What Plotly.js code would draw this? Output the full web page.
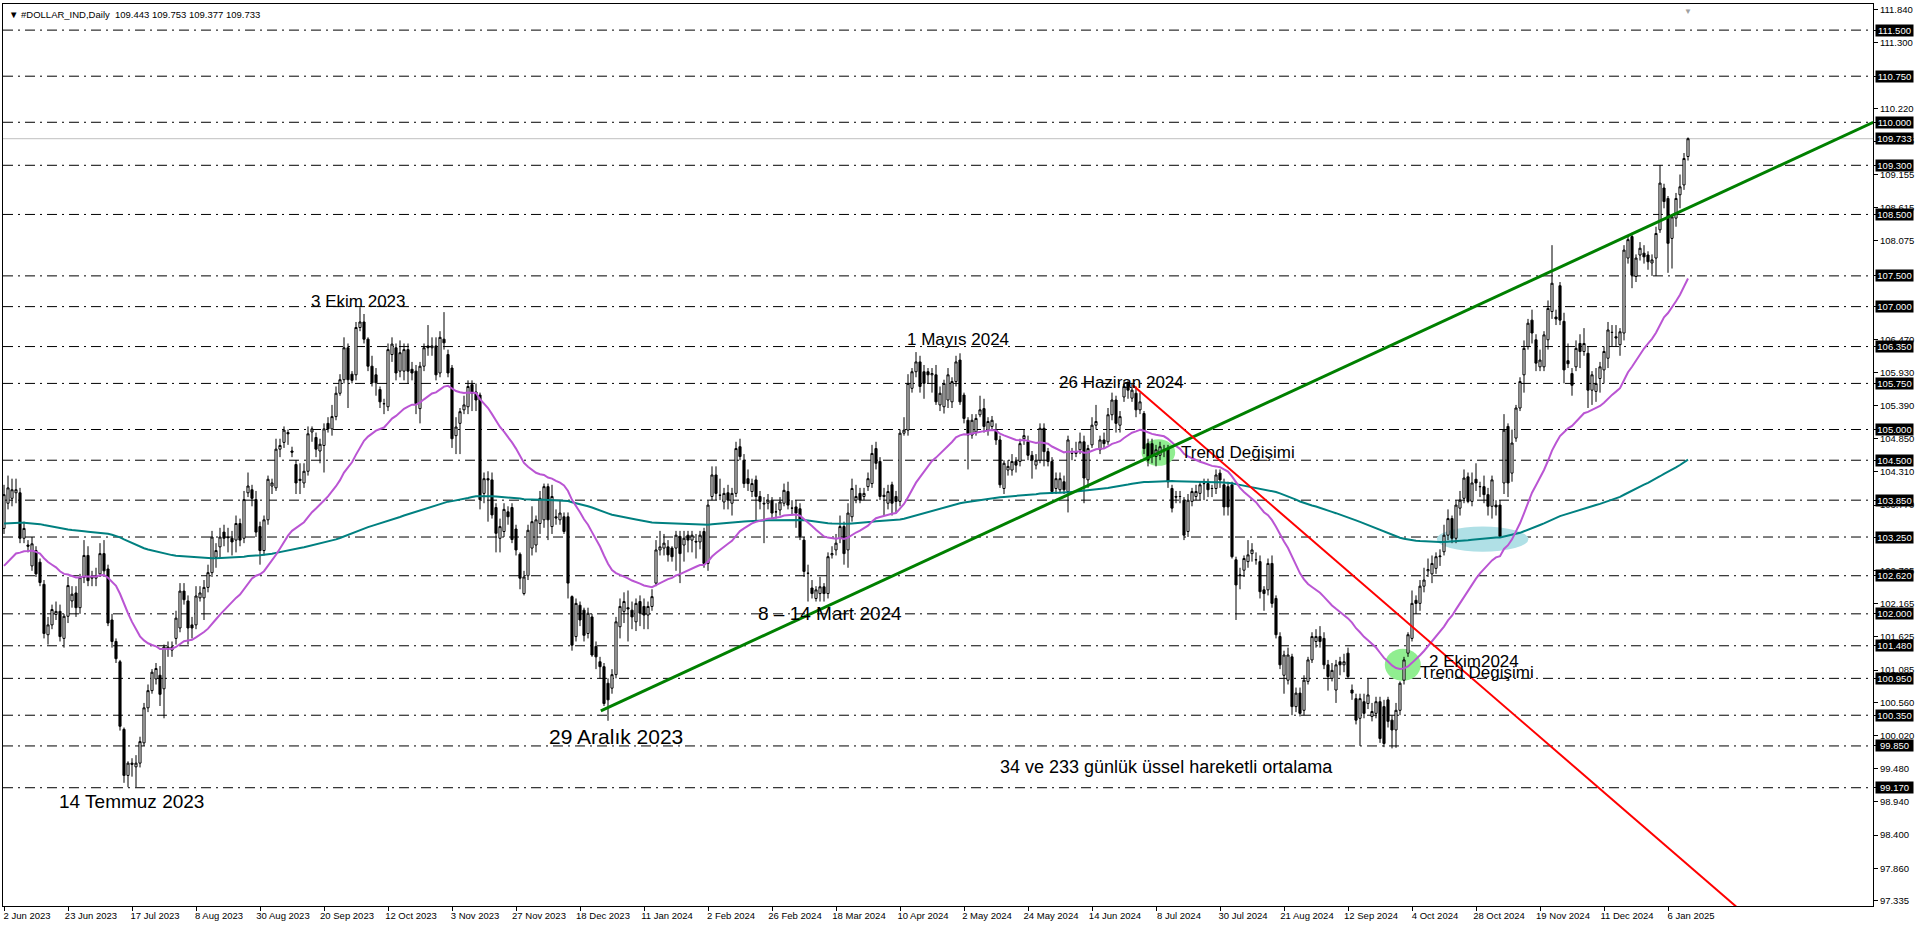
<!DOCTYPE html>
<html><head><meta charset="utf-8">
<script src="https://cdn.plot.ly/plotly-3.0.1.min.js"></script>
<style>html,body{margin:0;padding:0;background:#fff;overflow:hidden}#chart{width:1920px;height:927px}</style>
</head><body><div id="chart"></div>
<script>
// ---- daily OHLC, one value per bar (bar 0 = 2 Jun 2023) ----
const opens = [
103.39,103.80,103.88,103.97,103.97,103.23,103.12,102.78,103.03,102.84,
102.48,101.66,101.82,101.99,102.04,101.60,101.96,102.21,102.34,102.10,
102.59,102.95,102.58,102.58,102.65,102.98,102.73,101.90,101.55,101.22,
100.12,99.37,99.57,99.51,99.57,99.90,100.47,100.75,100.94,101.00,
100.78,101.43,101.41,101.60,101.77,102.37,102.21,101.82,101.82,102.26,
102.26,102.43,102.67,102.92,103.09,103.33,103.25,103.23,103.20,103.47,
103.23,103.97,104.02,103.86,103.42,103.03,103.53,104.08,104.05,104.68,
104.79,104.95,104.65,104.43,104.17,104.13,104.32,104.96,104.87,104.65,
104.74,105.10,105.01,105.21,105.59,105.81,106.33,105.90,105.89,106.66,
106.75,106.47,106.03,105.89,105.65,105.42,105.37,106.22,106.33,105.95,
105.95,106.30,105.98,105.95,105.34,106.03,106.36,106.33,106.36,105.92,
106.47,106.22,106.00,104.90,105.10,105.32,105.37,105.73,105.61,105.56,
103.96,104.20,104.18,103.73,103.23,103.34,103.66,103.73,103.38,102.97,
102.33,102.62,103.07,103.12,103.47,103.53,104.07,103.42,103.58,103.53,
103.58,103.58,102.28,101.63,102.14,102.06,101.68,101.95,101.47,101.22,
101.14,100.87,100.79,101.01,101.79,102.04,102.10,102.06,101.87,102.20,
102.12,101.98,102.12,102.50,103.04,103.07,103.09,103.07,103.07,103.26,
103.12,103.28,103.20,103.18,103.17,103.34,102.82,103.91,104.26,103.93,
103.82,103.97,103.80,103.96,104.72,104.50,104.20,103.99,104.18,103.91,
103.80,103.80,103.85,103.66,103.69,103.80,103.99,103.72,103.74,103.71,
103.20,102.66,102.42,102.25,102.33,102.44,102.33,102.96,103.04,103.23,
103.42,103.04,103.58,103.85,103.96,103.91,104.07,104.12,104.69,104.48,
103.93,103.80,104.10,103.91,103.83,104.94,104.99,105.67,105.94,106.10,
105.94,105.94,105.89,105.89,105.40,105.37,105.48,105.45,105.78,106.13,
105.56,105.15,104.91,104.96,105.24,105.34,104.99,105.05,104.99,104.83,
104.04,104.34,104.34,104.48,104.48,104.85,104.80,104.58,104.42,104.50,
105.02,104.64,104.48,104.04,104.02,104.15,103.99,104.61,104.61,104.67,
104.80,104.18,104.75,105.07,104.67,104.83,104.80,105.24,105.48,105.07,
105.53,105.75,105.51,105.59,105.32,105.26,104.77,104.77,104.56,104.58,
104.67,104.69,104.04,103.91,103.91,103.85,103.34,103.83,103.91,103.96,
104.12,104.12,104.04,104.04,104.29,104.10,104.07,104.10,102.88,102.63,
102.71,102.85,102.98,102.88,102.85,102.39,102.39,102.82,102.25,101.63,
101.00,100.92,101.30,100.49,100.71,100.43,100.90,101.25,101.55,101.63,
101.60,101.17,100.95,100.76,101.22,101.17,101.36,100.76,100.62,100.30,
100.57,100.54,100.33,100.38,100.57,100.49,100.60,100.27,100.11,100.43,
100.92,101.36,101.60,102.22,102.17,102.45,102.70,102.65,102.74,102.93,
103.01,103.28,103.55,103.23,103.72,103.88,104.23,103.83,104.19,104.07,
104.07,103.94,103.75,103.77,103.77,104.13,105.05,104.29,104.86,105.35,
105.89,106.35,106.78,106.46,106.02,106.02,106.46,106.92,106.83,107.34,
106.76,106.12,105.91,106.02,106.40,106.27,106.24,105.64,105.62,105.83,
105.97,106.16,106.58,106.51,106.38,106.57,107.79,108.14,107.49,107.84,
107.87,107.84,107.71,107.79,108.25,108.93,108.76,108.11,108.44,108.82,108.98,109.443];
const highs = [
104.10,104.25,104.20,104.20,104.05,103.50,103.20,103.25,103.10,102.90,
102.55,101.95,102.15,102.20,102.15,102.00,102.60,102.45,102.45,102.65,
103.20,103.10,102.70,102.75,103.15,103.20,102.80,102.00,101.60,101.25,
100.15,99.60,99.65,99.70,100.00,100.55,100.85,101.10,101.20,101.15,
101.50,101.55,101.55,102.05,102.50,102.50,102.30,101.95,102.45,102.45,
102.55,102.80,103.35,103.15,103.40,103.45,103.40,103.35,103.60,103.55,
104.00,104.30,104.10,104.00,103.50,103.60,104.25,104.20,104.85,104.85,
105.05,105.00,104.72,104.50,104.45,104.45,105.05,105.05,104.95,104.85,
105.10,105.20,105.40,105.70,105.90,106.50,106.40,105.95,106.75,106.99,
106.88,106.50,106.20,106.00,105.70,105.50,106.40,106.50,106.40,106.45,
106.40,106.40,106.10,106.05,106.10,106.40,106.70,106.50,106.50,106.60,
106.91,106.30,106.05,105.20,105.35,105.55,105.80,105.80,105.75,105.60,
104.30,104.32,104.30,103.80,103.55,103.80,103.75,103.80,103.45,103.00,
102.70,103.45,103.75,103.60,104.00,104.12,104.12,104.10,103.70,103.85,
103.65,103.65,102.30,102.25,102.20,102.10,102.10,102.00,101.55,101.30,
101.20,100.95,101.10,101.95,102.25,102.35,102.38,102.20,102.25,102.30,
102.25,102.20,102.40,103.20,103.35,103.30,103.20,103.10,103.35,103.35,
103.35,103.35,103.35,103.30,103.35,103.40,103.85,104.40,104.40,104.20,
104.05,104.10,104.05,104.80,104.85,104.60,104.35,104.20,104.25,104.00,
103.90,103.95,103.90,103.80,103.90,104.12,104.15,103.85,103.85,103.80,
103.25,102.80,102.55,102.45,102.60,102.50,103.00,103.10,103.30,103.60,
103.50,103.80,104.20,104.10,104.05,104.05,104.30,104.75,104.80,104.55,
104.05,104.10,104.15,104.00,105.00,105.20,105.90,106.00,106.26,106.20,
106.05,106.00,106.00,106.05,105.70,105.81,106.00,105.85,106.20,106.24,
105.60,105.20,105.25,105.25,105.55,105.50,105.20,105.22,105.10,104.90,
104.50,104.50,104.60,104.55,104.85,105.00,104.90,104.65,104.60,105.10,
105.10,104.70,104.55,104.30,104.30,104.25,104.90,104.70,104.80,104.95,
104.90,104.75,105.20,105.40,104.90,104.95,105.35,105.60,105.55,105.30,
105.80,105.80,105.75,105.70,105.60,105.30,104.85,104.85,104.75,104.80,
104.75,104.75,104.10,104.00,104.00,103.90,103.95,104.05,104.10,104.15,
104.20,104.20,104.10,104.35,104.35,104.20,104.15,104.15,102.93,102.75,
102.95,103.20,103.15,103.00,102.95,102.45,102.90,102.95,102.30,101.70,
101.40,101.45,101.35,100.80,100.80,101.00,101.30,101.70,101.75,101.80,
101.70,101.25,101.20,101.25,101.30,101.35,101.45,100.85,100.70,100.70,
100.70,100.95,100.55,100.65,100.65,100.60,100.65,100.35,100.55,100.90,
101.30,101.70,102.38,102.30,102.55,102.75,102.90,102.95,103.00,103.05,
103.45,103.70,103.60,103.85,104.00,104.35,104.30,104.30,104.45,104.15,
104.25,104.05,104.25,103.85,103.85,105.25,105.10,105.00,105.40,105.85,
106.45,106.80,106.95,106.55,106.30,106.60,107.10,108.00,106.95,107.40,
106.90,106.40,106.00,106.45,106.55,106.65,106.35,105.95,106.00,106.10,
106.35,106.75,106.70,106.70,106.65,108.00,108.15,108.20,107.85,108.05,
108.00,107.90,107.85,108.30,109.30,109.00,108.80,108.50,108.85,109.15,109.50,109.753];
const lows = [
103.30,103.70,103.75,103.80,103.15,103.15,103.00,102.70,102.60,102.45,
101.60,101.50,101.75,101.90,101.55,101.45,101.85,102.10,101.95,102.00,
102.50,102.45,102.45,102.45,102.60,102.60,101.80,101.45,101.20,100.10,
99.25,99.18,99.35,99.18,99.50,99.85,100.40,100.70,100.85,100.50,
100.30,101.30,101.30,101.50,101.70,102.15,101.50,101.60,101.75,102.20,
101.90,102.35,102.60,102.75,102.90,103.10,103.00,102.95,103.00,103.10,
103.15,103.90,103.75,103.25,102.80,102.95,103.45,103.95,104.00,104.55,
104.70,104.75,104.55,103.95,103.95,104.05,104.25,104.80,104.55,104.45,
104.30,104.95,104.90,105.15,105.55,105.75,105.35,105.75,105.80,106.60,
106.40,105.95,105.70,105.55,105.35,105.25,105.30,106.10,105.80,105.85,
105.80,105.75,105.80,105.25,105.10,105.95,106.20,106.20,105.80,105.85,
106.30,105.85,104.70,104.60,104.60,105.25,105.25,105.30,105.30,103.70,
103.80,103.50,103.55,103.00,103.00,103.25,103.45,103.15,102.95,102.40,
102.30,102.55,102.95,103.00,103.30,103.40,103.20,103.30,103.45,103.45,
103.30,102.25,101.40,101.55,101.80,101.55,101.60,101.30,101.10,100.95,
100.50,100.26,100.70,100.95,101.60,101.85,101.55,101.75,101.72,101.80,
101.75,101.75,102.05,102.45,102.95,102.95,102.85,102.85,102.70,102.50,
102.85,103.00,103.00,102.90,103.05,102.75,102.70,103.85,103.85,103.85,
103.70,103.70,103.60,103.90,104.50,104.05,104.00,103.90,103.50,103.70,
103.15,103.70,103.55,103.55,103.60,103.75,103.70,103.60,103.40,103.20,
102.60,102.20,102.25,102.20,102.20,102.20,102.25,102.90,102.95,103.15,
102.80,102.75,103.50,103.80,103.80,103.85,104.00,104.05,104.35,103.85,
103.60,103.70,103.60,103.65,103.75,104.90,104.90,105.60,105.85,105.60,
105.50,105.75,105.60,105.40,105.30,105.26,105.35,105.35,105.70,105.40,
105.10,104.35,104.85,104.90,105.20,104.95,104.90,105.00,104.75,104.05,
103.95,104.25,104.25,104.30,104.40,104.75,104.50,104.20,104.35,104.45,
104.40,104.40,103.95,103.95,103.98,103.95,103.65,104.50,104.55,104.60,
103.80,104.05,104.70,105.00,104.60,104.70,104.75,105.15,104.95,104.95,
105.45,105.50,105.45,105.20,105.25,104.60,104.40,104.45,104.40,104.50,
104.55,104.05,103.65,103.80,103.80,103.20,103.25,103.75,103.85,103.85,
103.85,103.90,103.90,103.95,104.05,103.60,103.60,102.90,101.90,102.40,
102.60,102.75,102.85,102.80,102.25,102.05,102.30,102.10,101.60,101.10,
100.70,100.85,100.35,100.40,100.33,100.35,100.85,101.20,101.45,101.45,
101.10,100.75,100.90,100.55,101.00,101.05,100.95,100.60,100.20,99.85,
100.30,100.45,100.25,100.30,99.90,99.83,100.15,99.81,99.82,100.35,
100.85,101.30,101.55,102.00,102.05,102.35,102.60,102.50,102.65,102.78,
102.95,103.20,103.15,103.15,103.60,103.80,103.80,103.75,104.00,103.90,
103.80,103.60,103.55,103.60,103.25,103.95,103.90,104.15,104.80,105.30,
105.60,106.30,106.40,105.95,105.95,105.95,106.30,106.80,106.70,106.70,
105.75,106.00,105.55,105.95,106.00,106.20,105.35,105.40,105.45,105.60,
105.75,106.00,106.35,106.35,106.20,106.45,107.70,107.30,107.40,107.75,
107.70,107.60,107.50,107.50,108.20,108.60,107.55,107.62,108.30,108.60,108.90,109.377];
const closes = [
103.94,104.05,104.02,104.02,103.23,103.39,103.10,103.14,102.65,102.51,
101.68,101.82,102.07,102.04,101.63,101.96,102.46,102.32,102.10,102.59,
102.95,102.54,102.60,102.62,102.98,102.70,101.85,101.55,101.27,100.17,
99.37,99.57,99.55,99.57,99.92,100.47,100.75,101.05,101.11,100.69,
101.46,101.46,101.46,101.93,102.37,102.23,101.77,101.77,102.29,102.34,
102.43,102.67,103.25,103.03,103.25,103.23,103.24,103.17,103.47,103.20,
103.86,104.08,103.88,103.33,103.03,103.53,104.19,104.13,104.68,104.74,
104.99,104.93,104.63,104.13,104.19,104.32,104.93,105.01,104.68,104.76,
105.01,105.01,105.21,105.59,105.81,106.33,105.81,105.80,106.66,106.75,
106.47,106.03,105.76,105.76,105.45,105.42,106.30,106.39,105.92,106.25,
106.30,105.95,105.92,105.42,106.03,106.33,106.33,106.36,105.89,106.50,
106.41,105.92,104.85,105.04,105.29,105.40,105.70,105.59,105.48,103.86,
104.20,104.18,103.61,103.31,103.42,103.70,103.58,103.21,103.04,102.58,
102.60,103.36,103.50,103.53,103.88,104.07,103.53,103.91,103.56,103.64,
103.34,102.50,101.49,102.17,101.90,101.65,102.01,101.33,101.30,101.14,
100.54,100.60,101.01,101.87,102.12,102.20,102.08,101.95,102.17,102.01,
101.98,102.12,102.28,103.04,103.09,103.15,102.96,102.93,103.28,102.98,
103.23,103.20,103.28,103.17,103.28,102.82,103.77,104.26,103.96,103.93,
103.96,103.85,103.96,104.69,104.56,104.12,104.12,104.12,103.91,103.83,
103.79,103.85,103.64,103.66,103.82,104.01,103.77,103.72,103.64,103.26,
102.69,102.66,102.33,102.39,102.44,102.33,102.93,102.98,103.15,103.42,
102.98,103.64,104.04,103.91,103.85,103.96,104.20,104.61,104.45,103.91,
103.91,103.99,103.80,103.83,104.94,104.99,105.75,105.94,106.10,105.70,
105.75,105.89,105.91,105.45,105.59,105.75,105.89,105.78,106.10,105.45,
105.18,104.91,105.15,105.18,105.32,105.05,105.13,105.15,104.83,104.10,
104.45,104.40,104.48,104.42,104.77,104.90,104.58,104.50,104.50,105.02,
104.64,104.48,103.99,104.20,104.20,104.02,104.83,104.61,104.64,104.80,
104.21,104.69,105.07,105.13,104.83,104.77,105.24,105.48,105.10,105.21,
105.70,105.64,105.64,105.32,105.45,104.69,104.50,104.56,104.67,104.72,
104.66,104.15,103.72,103.90,103.91,103.28,103.85,103.99,103.99,104.10,
104.12,104.02,104.04,104.26,104.18,103.74,103.74,102.93,102.47,102.63,
102.90,102.96,103.04,102.88,102.36,102.33,102.82,102.17,101.66,101.17,
101.33,101.33,100.49,100.71,100.38,100.92,101.25,101.63,101.63,101.55,
101.17,100.98,101.08,101.17,101.17,101.22,100.98,100.71,100.27,100.62,
100.38,100.68,100.41,100.57,99.97,99.89,100.25,100.11,100.43,100.87,
101.25,101.66,102.17,102.17,102.45,102.55,102.72,102.82,102.93,102.94,
103.28,103.55,103.23,103.77,103.85,104.21,103.83,104.13,104.13,104.07,
103.94,103.75,104.18,103.74,103.26,104.99,104.13,104.78,105.35,105.78,
106.32,106.73,106.57,106.08,106.13,106.54,106.97,107.38,106.80,106.78,
105.97,106.07,105.72,106.32,106.27,106.40,105.64,105.89,105.75,106.02,
106.27,106.62,106.58,106.49,106.59,107.92,108.09,107.51,107.79,107.95,
107.81,107.73,107.76,108.19,109.01,108.71,108.03,108.46,108.76,108.95,109.41,109.733];

// ---- time axis labels (one every 16 bars) ----
const xTickLabels = ['2 Jun 2023','23 Jun 2023','17 Jul 2023','8 Aug 2023','30 Aug 2023','20 Sep 2023','12 Oct 2023','3 Nov 2023','27 Nov 2023','18 Dec 2023','11 Jan 2024','2 Feb 2024','26 Feb 2024','18 Mar 2024','10 Apr 2024','2 May 2024','24 May 2024','14 Jun 2024','8 Jul 2024','30 Jul 2024','21 Aug 2024','12 Sep 2024','4 Oct 2024','28 Oct 2024','19 Nov 2024','11 Dec 2024','6 Jan 2025'];
const barsPerLabel = 16;

// ---- price scale labels ----
const priceTicks = [111.84,111.30,110.22,109.695,109.155,108.615,108.075,106.47,105.93,105.39,104.85,104.31,103.77,102.705,102.165,101.625,101.085,100.56,100.02,99.48,98.94,98.40,97.86,97.335];
// horizontal support / resistance levels
const levels = [111.5,110.75,110.0,109.3,108.5,107.5,107.0,106.35,105.75,105.0,104.5,103.85,103.25,102.62,102.0,101.48,100.95,100.35,99.85,99.17];
const lastPrice = 109.733;
const header = ['#DOLLAR_IND,Daily', 109.443, 109.753, 109.377, 109.733];

// ---- moving averages (34 & 233 EMA) : value at first bar ----
const ema34Start = 102.78;
const ema233Start = 103.47;

// ---- hand-drawn trend lines (bar index, price) ----
const greenTrendBars = [149.2, 467.3];
const greenTrendPrices = [100.42, 110.0];
const redTrendBars = [282.2, 433.5];
const redTrendPrices = [105.72, 97.21];

// ---- highlighted zones (bar range, price range) ----
const zoneBars = [[284.4, 292.8],[345.2, 354.2],[358.2, 381.1]];
const zonePrices = [[104.41, 104.84],[100.91, 101.43],[103.01, 103.42]];

// ---- text notes (bar, price) ----
const noteTexts = ['3 Ekim 2023','14 Temmuz 2023','29 Aralık 2023','8 – 14 Mart 2024','1 Mayıs 2024','26 Haziran 2024','Trend Değişimi','2 Ekim2024','Trend Değişimi','34 ve 233 günlük üssel hareketli ortalama'];
const noteBars = [88.5, 31.8, 153.0, 206.4, 238.5, 279.3, 308.5, 367.4, 368.3, 290.6];
const notePrices = [107.08, 98.94, 100.01, 102.01, 106.46, 105.77, 104.63, 101.23, 101.05, 99.51];
const noteSizes = [17, 19, 21, 19, 17, 17, 17, 17, 17, 18];

function ema(src, period, start) {
  const k = 2 / (period + 1);
  const out = [];
  let v = start;
  src.forEach((c, i) => { if (i > 0) v = v + k * (c - v); out.push(v); });
  return out;
}

const N = closes.length;
const xs = closes.map((_, i) => i);
const FONT = 'Liberation Sans, Arial, sans-serif';
const AXFONT = 'Liberation Sans, Arial, sans-serif';
const AXSIZE = 9.5;

const traces = [
  {type:'scatter', mode:'lines', x:xs, y:ema(closes, 233, ema233Start), line:{color:'#008080', width:2}, hoverinfo:'skip', showlegend:false},
  {type:'scatter', mode:'lines', x:xs, y:ema(closes, 34, ema34Start), line:{color:'#BA55D3', width:2}, hoverinfo:'skip', showlegend:false},
  {type:'candlestick', x:xs, open:opens, high:highs, low:lows, close:closes,
   increasing:{line:{color:'#000', width:1}, fillcolor:'#ffffff'},
   decreasing:{line:{color:'#000', width:1}, fillcolor:'#000000'},
   whiskerwidth:0, hoverinfo:'skip', showlegend:false}
];

const shapes = [];
const zoneColors = ['#90EE90', '#90EE90', '#B0E0E6'];
zoneBars.forEach((b, i) => shapes.push({type:'circle', xref:'x', yref:'y', x0:b[0], x1:b[1], y0:zonePrices[i][0], y1:zonePrices[i][1], fillcolor:zoneColors[i], line:{width:0}, layer:'below'}));
levels.forEach(v => shapes.push({type:'line', xref:'paper', x0:0, x1:1, yref:'y', y0:v, y1:v, line:{color:'#000', width:1, dash:'10px,5px,2px,5px'}, layer:'below'}));
shapes.push({type:'line', xref:'paper', x0:0, x1:1, yref:'y', y0:lastPrice, y1:lastPrice, line:{color:'#C0C0C0', width:1}, layer:'below'});
shapes.push({type:'line', xref:'x', yref:'y', x0:greenTrendBars[0], x1:greenTrendBars[1], y0:greenTrendPrices[0], y1:greenTrendPrices[1], line:{color:'#008000', width:3}});
shapes.push({type:'line', xref:'x', yref:'y', x0:redTrendBars[0], x1:redTrendBars[1], y0:redTrendPrices[0], y1:redTrendPrices[1], line:{color:'#FF0000', width:2}});

const annotations = [];
noteTexts.forEach((t, i) => annotations.push({xref:'x', yref:'y', x:noteBars[i], y:notePrices[i], text:t, showarrow:false, xanchor:'center', yanchor:'middle', font:{family:FONT, size:noteSizes[i], color:'#000'}}));
levels.concat([lastPrice]).forEach(v => annotations.push({xref:'paper', x:1, xanchor:'left', xshift:2, yref:'y', y:v, yanchor:'middle', text:v.toFixed(3), showarrow:false, bgcolor:'#000', borderpad:0, width:37, height:11, font:{family:AXFONT, size:AXSIZE, color:'#fff'}}));
annotations.push({xref:'paper', yref:'paper', x:0, y:1, xanchor:'left', yanchor:'top', xshift:4, yshift:-3, showarrow:false,
  text:'▼ ' + header[0] + '\u00a0\u00a0' + header.slice(1).map(v => v.toFixed(3)).join(' '), font:{family:AXFONT, size:AXSIZE, color:'#000'}});
annotations.push({xref:'x', yref:'paper', x:N - 1, y:1, xanchor:'center', yanchor:'top', yshift:1, showarrow:false, text:'▼', font:{size:8, color:'#A0A0A0'}});

const tickBars = xTickLabels.map((_, k) => k * barsPerLabel);

const layout = {
  width:1920, height:927, margin:{l:3, r:47, t:4, b:21, pad:0},
  paper_bgcolor:'#ffffff', plot_bgcolor:'#ffffff', showlegend:false, boxgap:0.25,
  xaxis:{range:[-0.25, 467.25], rangeslider:{visible:false}, fixedrange:true,
    tickmode:'array', tickvals:tickBars, ticktext:xTickLabels, ticks:'outside', ticklen:4, tickcolor:'#000',
    ticklabelshift:23, ticklabelstandoff:-3, tickfont:{family:AXFONT, size:AXSIZE, color:'#000'},
    showline:true, mirror:true, linecolor:'#000', linewidth:1, showgrid:false, zeroline:false},
  yaxis:{range:[97.245, 111.925], side:'right', fixedrange:true,
    tickmode:'array', tickvals:priceTicks.concat(levels), ticktext:priceTicks.map(v => v.toFixed(3)).concat(levels.map(() => '')),
    ticks:'outside', ticklen:4, tickcolor:'#000', tickfont:{family:AXFONT, size:AXSIZE, color:'#000'},
    showline:true, mirror:true, linecolor:'#000', linewidth:1, showgrid:false, zeroline:false},
  shapes, annotations
};

Plotly.newPlot('chart', traces, layout, {staticPlot:true, displayModeBar:false});
</script></body></html>
